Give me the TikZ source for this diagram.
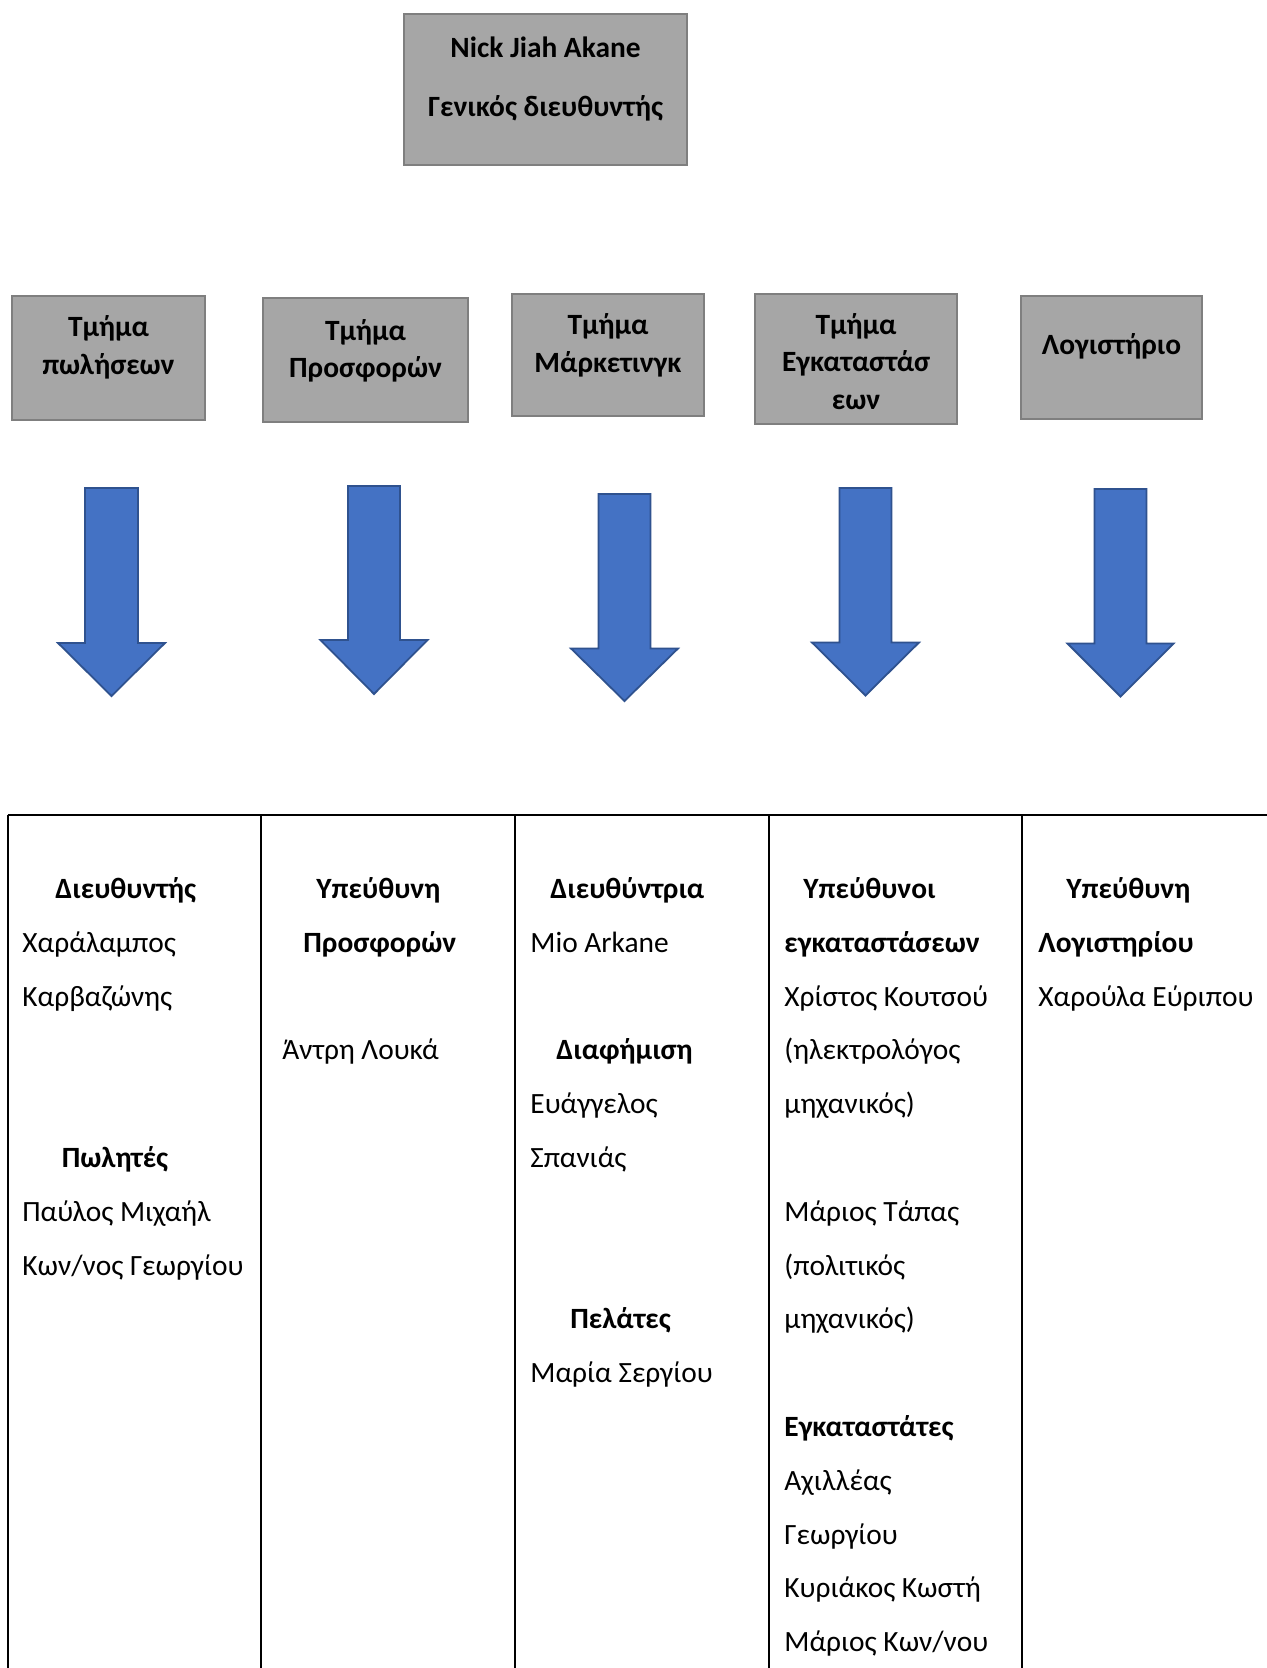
\documentclass[tikz,border=0pt]{standalone}
\usepackage{fontspec}
\setmainfont{Carlito}
\definecolor{boxfill}{HTML}{A6A6A6}
\definecolor{boxedge}{HTML}{7F7F7F}
\definecolor{arrfill}{HTML}{4472C4}
\definecolor{arredge}{HTML}{2F528F}
\newcommand{\blockarrow}[7]{% cx, top, shaft half, wing half, wing y, tip y, name
  \draw[arrowshape] (#1-#3,#2) coordinate (#7top) -- (#1+#3,#2) -- (#1+#3,#5) -- (#1+#4,#5)
    -- (#1,#6) coordinate (#7tip) -- (#1-#4,#5) -- (#1-#3,#5) -- cycle;}
\begin{document}
\begin{tikzpicture}[x=0.5pt,y=-0.5pt,
  box/.style={draw=boxedge, fill=boxfill, line width=1.4pt, inner sep=0pt, rectangle},
  btxt/.style={font=\fontsize{14.7}{17}\selectfont\bfseries, inner sep=0pt, anchor=base},
  ttxt/.style={font=\fontsize{14.7}{17}\selectfont, inner sep=0pt, anchor=base west},
  thead/.style={font=\fontsize{14.7}{17}\selectfont\bfseries, inner sep=0pt, anchor=base west},
  arrowshape/.style={fill=arrfill, draw=arredge, line width=0.9pt, line join=miter},
  grid/.style={draw=black, line width=1pt}]
\useasboundingbox (0,0) rectangle (1267,1668);
\fill[white] (0,0) rectangle (1267,1668);

% top box
\node[box, minimum width=141.5pt, minimum height=75.5pt] (gm) at (545.5,89.5) {};
\node[btxt] (gm1) at (545.5,58) {Nick Jiah Akane};
\node[btxt] (gm2) at (545.5,117) {Γενικός διευθυντής};

% department boxes
\node[box, minimum width=96.5pt, minimum height=62pt] (d1) at (108.5,358) {};
\node[btxt] (d1a) at (108.5,337) {Τμήμα};
\node[btxt] (d1b) at (108.5,375) {πωλήσεων};

\node[box, minimum width=102.5pt, minimum height=62pt] (d2) at (365.5,360) {};
\node[btxt] (d2a) at (365.5,341) {Τμήμα};
\node[btxt] (d2b) at (365.5,378) {Προσφορών};

\node[box, minimum width=96pt, minimum height=61pt] (d3) at (608,355) {};
\node[btxt] (d3a) at (608,335) {Τμήμα};
\node[btxt] (d3b) at (608,373) {Μάρκετινγκ};

\node[box, minimum width=101pt, minimum height=65pt] (d4) at (856,359) {};
\node[btxt] (d4a) at (856,335) {Τμήμα};
\node[btxt] (d4b) at (856,372) {Εγκαταστάσ};
\node[btxt] (d4c) at (856,410) {εων};

\node[box, minimum width=90.5pt, minimum height=61.5pt] (d5) at (1111.5,357.5) {};
\node[btxt] (d5a) at (1111.5,355) {Λογιστήριο};

% arrows
\blockarrow{111.5}{488}{26.5}{53.5}{643}{696}{a1}
\blockarrow{374}{486}{26}{53.5}{640}{694}{a2}
\blockarrow{624.5}{494}{26}{53.5}{648.5}{701}{a3}
\blockarrow{865.5}{488}{26}{53.5}{642.5}{695.5}{a4}
\blockarrow{1120.5}{489}{26}{53}{643.5}{696.5}{a5}

% table grid
\coordinate (tl) at (7.5,815);
\coordinate (tr) at (1267,815);
\draw[grid] (tl) -- (tr);
\foreach \cx in {7.5,261,515,769,1022} {\draw[grid] (\cx,815) -- (\cx,1668);}

% column 1
\node[thead] (c1a) at (55,898.5) {Διευθυντής};
\node[ttxt]  (c1b) at (22,952.3) {Χαράλαμπος};
\node[ttxt]  (c1c) at (22,1006.1) {Καρβαζώνης};
\node[thead] (c1d) at (61.5,1167.5) {Πωλητές};
\node[ttxt]  (c1e) at (22,1221.3) {Παύλος Μιχαήλ};
\node[ttxt]  (c1f) at (22,1275.1) {Κων/νος Γεωργίου};

% column 2
\node[thead] (c2a) at (316,898.5) {Υπεύθυνη};
\node[thead] (c2b) at (303,952.3) {Προσφορών};
\node[ttxt]  (c2c) at (282,1059.9) {Άντρη Λουκά};

% column 3
\node[thead] (c3a) at (550,898.5) {Διευθύντρια};
\node[ttxt]  (c3b) at (530,952.3) {Mio Arkane};
\node[thead] (c3c) at (556,1059.9) {Διαφήμιση};
\node[ttxt]  (c3d) at (530,1113.7) {Ευάγγελος};
\node[ttxt]  (c3e) at (530,1167.5) {Σπανιάς};
\node[thead] (c3f) at (570,1328.9) {Πελάτες};
\node[ttxt]  (c3g) at (530,1382.7) {Μαρία Σεργίου};

% column 4
\node[thead] (c4a) at (803,898.5) {Υπεύθυνοι};
\node[thead] (c4b) at (784,952.3) {εγκαταστάσεων};
\node[ttxt]  (c4c) at (784,1006.1) {Χρίστος Κουτσού};
\node[ttxt]  (c4d) at (784,1059.9) {(ηλεκτρολόγος};
\node[ttxt]  (c4e) at (784,1113.7) {μηχανικός)};
\node[ttxt]  (c4f) at (784,1221.3) {Μάριος Τάπας};
\node[ttxt]  (c4g) at (784,1275.1) {(πολιτικός};
\node[ttxt]  (c4h) at (784,1328.9) {μηχανικός)};
\node[thead] (c4i) at (784,1436.5) {Εγκαταστάτες};
\node[ttxt]  (c4j) at (784,1490.3) {Αχιλλέας};
\node[ttxt]  (c4k) at (784,1544.1) {Γεωργίου};
\node[ttxt]  (c4l) at (784,1597.9) {Κυριάκος Κωστή};
\node[ttxt]  (c4m) at (784,1651.7) {Μάριος Κων/νου};

% column 5
\node[thead] (c5a) at (1066,898.5) {Υπεύθυνη};
\node[thead] (c5b) at (1038,952.3) {Λογιστηρίου};
\node[ttxt]  (c5c) at (1038,1006.1) {Χαρούλα Εύριπου};
\end{tikzpicture}
\end{document}
